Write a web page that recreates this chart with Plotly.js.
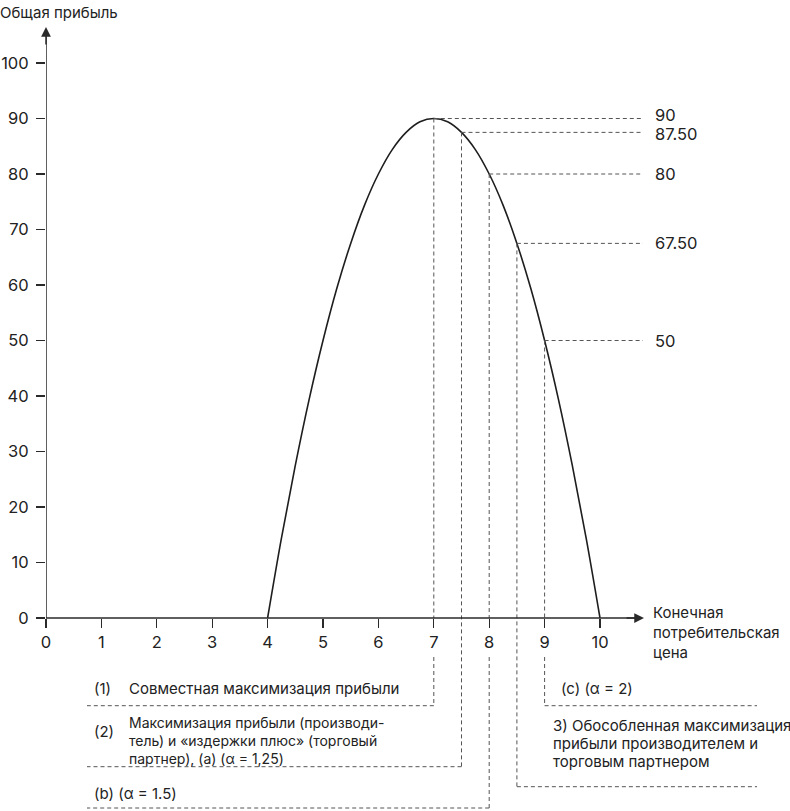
<!DOCTYPE html>
<html><head><meta charset="utf-8">
<script src="https://cdn.plot.ly/plotly-3.0.1.min.js"></script>
<style>html,body{margin:0;padding:0;background:#fff}#chart{width:790px;height:811px}</style>
</head><body><div id="chart"></div>
<script>
// ---- data ----
const prices  = [4, 4.25, 4.5, 4.75, 5, 5.25, 5.5, 5.75, 6, 6.25, 6.5, 6.75, 7, 7.25, 7.5, 7.75, 8, 8.25, 8.5, 8.75, 9, 9.25, 9.5, 9.75, 10];
const profits = [0, 14.4, 27.5, 39.4, 50, 59.4, 67.5, 74.4, 80, 84.4, 87.5, 89.4, 90, 89.4, 87.5, 84.4, 80, 74.4, 67.5, 59.4, 50, 39.4, 27.5, 14.4, 0];
const keyPrices  = [7, 7.5, 8, 8.5, 9];
const keyProfits = [90, 87.5, 80, 67.5, 50];
const keyLabels  = ['90', '87.50', '80', '67.50', '50'];
const xTicks = [0,1,2,3,4,5,6,7,8,9,10];
const yTicks = [0,10,20,30,40,50,60,70,80,90,100];

// ---- layout geometry (pixel -> data helpers) ----
const W = 790, H = 811, L = 46, X0PX = 46, Y0PX = 618, SX = 55.4, SY = 5.55;
const X = p => (p - X0PX) / SX;
const Y = p => (Y0PX - p) / SY;
const xRange = [0, (W - L) / SX];
const yRange = [Y(H), Y(0)];
const axisPos = (0 - yRange[0]) / (yRange[1] - yRange[0]);

const INK = '#2a2a2a', DASHC = '#555';
const FONT = 'Inter, Roboto, "Liberation Sans", sans-serif';
const dashLine = {color: DASHC, width: 1, dash: '4px,3px'};

// guide lines below the curve
const guideBottomPx = [705.7, 766.7, 808, 786.7, 705.7];
const guideEndPx    = [87, 87, 87, 757, 757];
const labelShift    = [4, -2, 0, 0, 0];
const shapes = [];
keyPrices.forEach((p, i) => {
  const v = keyProfits[i];
  shapes.push({type:'line', xref:'x', yref:'y', x0:p, x1:X(643), y0:v, y1:v, line:dashLine});
  const onTick = xTicks.indexOf(p) >= 0;
  if (onTick) {
    shapes.push({type:'line', xref:'x', yref:'y', x0:p, x1:p, y0:v, y1:0, line:dashLine});
    shapes.push({type:'line', xref:'x', yref:'y', x0:p, x1:p, y0:Y(657), y1:Y(guideBottomPx[i]), line:dashLine});
  } else {
    shapes.push({type:'line', xref:'x', yref:'y', x0:p, x1:p, y0:v, y1:Y(guideBottomPx[i]), line:dashLine});
  }
  shapes.push({type:'line', xref:'x', yref:'y', x0:p, x1:X(guideEndPx[i]), y0:Y(guideBottomPx[i]), y1:Y(guideBottomPx[i]), line:dashLine});
});
// axis lines
shapes.push({type:'line', xref:'x', yref:'y', x0:0, x1:X(638), y0:0, y1:0, line:{color:INK, width:1.5}});
shapes.push({type:'line', xref:'x', yref:'y', x0:0, x1:0, y0:0, y1:Y(33), line:{color:INK, width:1.5}});

const annotations = [];
const txt = (px, py, text, size) => annotations.push({
  xref:'x', yref:'y', x:X(px), y:Y(py), text:text, showarrow:false, align:'left',
  xanchor:'left', yanchor:'middle', borderpad:0, font:{family:FONT, size:size || 15, color:'#222'}
});
// arrow heads
annotations.push({xref:'x', yref:'y', axref:'x', ayref:'y', x:X(644), y:0, ax:X(625), ay:0, text:'', showarrow:true,
  arrowhead:2, arrowsize:1.3, arrowwidth:1.5, arrowcolor:INK, standoff:0, startstandoff:0});
annotations.push({xref:'x', yref:'y', axref:'x', ayref:'y', x:0, y:Y(27), ax:0, ay:Y(46), text:'', showarrow:true,
  arrowhead:2, arrowsize:1.3, arrowwidth:1.5, arrowcolor:INK, standoff:0, startstandoff:0});
// right labels
keyPrices.forEach((p, i) => annotations.push({xref:'x', yref:'y', x:X(654), y:keyProfits[i], yshift:labelShift[i],
  text:keyLabels[i], showarrow:false, xanchor:'left', yanchor:'middle', borderpad:0,
  font:{family:FONT, size:16.5, color:'#222'}}));
// axis titles
annotations.push({xref:'paper', yref:'paper', x:0, y:1, xshift:-L-1, yshift:-2, text:'Общая прибыль', showarrow:false,
  xanchor:'left', yanchor:'top', borderpad:0, font:{family:FONT, size:15, color:'#222'}});
txt(652, 612, 'Конечная');
txt(652, 632, 'потребительская');
txt(652, 652, 'цена');
// bottom notes
txt(93, 688, '(1)');
txt(128, 688, 'Совместная максимизация прибыли');
txt(93, 731, '(2)');
txt(128, 740, 'Максимизация прибыли (производи-<br>тель) и «издержки плюс» (торговый<br>партнер), (а) (α = 1,25)', 14);
txt(93, 793, '(b) (α = 1.5)');
txt(560, 688, '(c) (α = 2)');
txt(552, 725, '3) Обособленная максимизация');
txt(552, 743, 'прибыли производителем и');
txt(552, 761, 'торговым партнером');

const trace = {x: prices, y: profits, type:'scatter', mode:'lines',
  line:{color:'#1e1e1e', width:1.6, shape:'spline', smoothing:1}, hoverinfo:'skip'};

const layout = {
  width: W, height: H, margin:{l:L, r:0, t:0, b:0},
  paper_bgcolor:'#fff', plot_bgcolor:'#fff', showlegend:false,
  font:{family:FONT, size:15, color:'#222'},
  xaxis:{range:xRange, anchor:'free', position:axisPos, showgrid:false, zeroline:false, showline:false,
    tickmode:'array', tickvals:xTicks, ticktext:xTicks.map(String), ticks:'outside', ticklen:9, tickwidth:1.3,
    tickcolor:INK, tickfont:{family:FONT, size:16.5, color:'#222'}, fixedrange:true},
  yaxis:{range:yRange, showgrid:false, zeroline:false, showline:false, ticklabelstandoff:4,
    tickmode:'array', tickvals:yTicks, ticktext:yTicks.map(String), ticks:'outside', ticklen:9, tickwidth:1.3,
    tickcolor:INK, tickfont:{family:FONT, size:16.5, color:'#222'}, fixedrange:true},
  shapes: shapes, annotations: annotations
};
Plotly.newPlot('chart', [trace], layout, {displayModeBar:false, staticPlot:true});
</script></body></html>
